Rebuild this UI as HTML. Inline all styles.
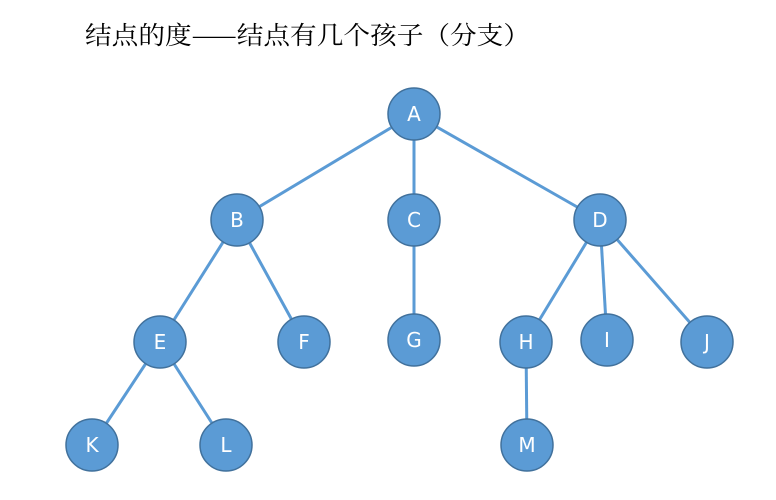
<!DOCTYPE html>
<html><head><meta charset="utf-8"><style>
body{margin:0;background:#fff;width:776px;height:495px;overflow:hidden}
</style></head><body>
<svg width="776" height="495" xmlns="http://www.w3.org/2000/svg">
<text x="85" y="44" font-family="'Noto Serif CJK SC',serif" font-size="25" fill="#000" textLength="445" lengthAdjust="spacingAndGlyphs">结点的度——结点有几个孩子（分支）</text>
<g stroke="#5B9BD5" stroke-width="3">
<line x1="414" y1="114" x2="237" y2="220"/>
<line x1="414" y1="114" x2="414" y2="220"/>
<line x1="414" y1="114" x2="600" y2="220"/>
<line x1="237" y1="220" x2="160" y2="342"/>
<line x1="237" y1="220" x2="304" y2="342"/>
<line x1="414" y1="220" x2="414" y2="340"/>
<line x1="600" y1="220" x2="526" y2="342"/>
<line x1="600" y1="220" x2="607" y2="340"/>
<line x1="600" y1="220" x2="707" y2="342"/>
<line x1="160" y1="342" x2="92" y2="445"/>
<line x1="160" y1="342" x2="226" y2="445"/>
<line x1="526" y1="342" x2="527" y2="445"/>
</g>
<g fill="#5B9BD5" stroke="#41719C" stroke-width="1.5">
<circle cx="414" cy="114" r="26"/><circle cx="237" cy="220" r="26"/><circle cx="414" cy="220" r="26"/><circle cx="600" cy="220" r="26"/>
<circle cx="160" cy="342" r="26"/><circle cx="304" cy="342" r="26"/><circle cx="414" cy="340" r="26"/><circle cx="526" cy="342" r="26"/><circle cx="607" cy="340" r="26"/><circle cx="707" cy="342" r="26"/>
<circle cx="92" cy="445" r="26"/><circle cx="226" cy="445" r="26"/><circle cx="527" cy="445" r="26"/>
</g>
<g fill="#fff" font-family="'DejaVu Sans',sans-serif" font-size="20" text-anchor="middle">
<text x="414" y="121">A</text><text x="237" y="227">B</text><text x="414" y="227">C</text><text x="600" y="227">D</text>
<text x="160" y="349">E</text><text x="304" y="349">F</text><text x="414" y="347">G</text><text x="526" y="349">H</text><text x="607" y="347">I</text><text x="707" y="349">J</text>
<text x="92" y="452">K</text><text x="226" y="452">L</text><text x="527" y="452">M</text>
</g>
</svg>
</body></html>
